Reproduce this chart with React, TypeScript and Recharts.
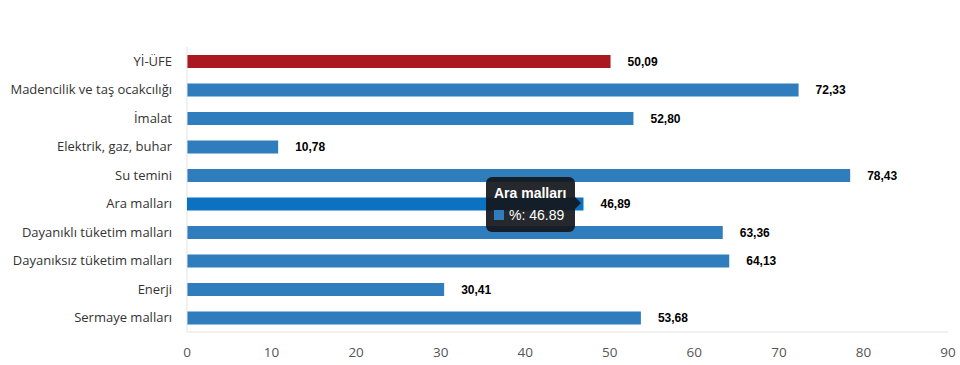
import { BarChart, Bar, XAxis, YAxis, Tooltip, LabelList, Cell } from 'recharts'

const categories = [
  'Yİ-ÜFE',
  'Madencilik ve taş ocakcılığı',
  'İmalat',
  'Elektrik, gaz, buhar',
  'Su temini',
  'Ara malları',
  'Dayanıklı tüketim malları',
  'Dayanıksız tüketim malları',
  'Enerji',
  'Sermaye malları',
]

const values = [50.09, 72.33, 52.8, 10.78, 78.43, 46.89, 63.36, 64.13, 30.41, 53.68]

const xTicks = [0, 10, 20, 30, 40, 50, 60, 70, 80, 90]

const data = categories.map((name, i) => ({ name, value: values[i] }))

const RED = '#a9191f'
const BLUE = '#2f7dbd'
const ACTIVE = '#0b72c2'
const ACTIVE_INDEX = 5

// single-line category label (default tick wraps long names)
function CatTick({ x, y, payload }: any) {
  return (
    <text
      x={x}
      y={y}
      dy={4.5}
      textAnchor="end"
      fill="#333"
      fontSize={13}
      fontFamily='"Open Sans", sans-serif'
    >
      {payload.value}
    </text>
  )
}

function TipBox({ active, payload, label }: any) {
  if (!active || !payload || !payload.length) return null
  const v = payload[0].value as number
  return (
    <div
      style={{
        position: 'relative',
        background: 'rgba(20, 24, 28, 0.93)',
        borderRadius: 6,
        padding: '5px 8px 6px 8px',
        color: '#fff',
        fontFamily: 'Arial, "Liberation Sans", sans-serif',
        fontSize: 14,
        lineHeight: '22px',
        width: 73,
      }}
    >
      <div style={{ fontWeight: 'bold' }}>{label}</div>
      <div style={{ display: 'flex', alignItems: 'center' }}>
        <span style={{ display: 'inline-block', width: 10, height: 10, background: BLUE, marginRight: 5 }} />
        <span>%: {v}</span>
      </div>
      <div
        style={{
          position: 'absolute',
          right: -6,
          top: 20,
          width: 0,
          height: 0,
          borderTop: '6px solid transparent',
          borderBottom: '6px solid transparent',
          borderLeft: '6px solid rgba(20, 24, 28, 0.93)',
        }}
      />
    </div>
  )
}

export default function App() {
  return (
    <div style={{ position: 'absolute', left: 0, top: 0, width: 960, height: 365, overflow: 'hidden' }}>
      <BarChart
        width={960}
        height={365}
        data={data}
        layout="vertical"
        margin={{ top: 47, right: 12, left: 0, bottom: 0 }}
        barCategoryGap={0}
      >
        <XAxis
          type="number"
          domain={[0, 90]}
          ticks={xTicks}
          interval={0}
          axisLine={{ stroke: '#e3e3e3' }}
          tickLine={false}
          tickSize={0}
          tickMargin={15}
          height={33}
          tick={{ fill: '#555', fontSize: 13.5, fontFamily: '"Open Sans", sans-serif' }}
        />
        <YAxis
          type="category"
          dataKey="name"
          width={187}
          axisLine={{ stroke: '#e3e3e3' }}
          tickLine={false}
          tickSize={0}
          tickMargin={15}
          interval={0}
          tick={<CatTick />}
        />
        <Tooltip
          active
          defaultIndex={ACTIVE_INDEX}
          cursor={false}
          isAnimationActive={false}
          position={{ x: 486, y: 177 }}
          content={<TipBox />}
          wrapperStyle={{ outline: 'none' }}
        />
        <Bar dataKey="value" barSize={13} isAnimationActive={false} activeBar={{ fill: ACTIVE }}>
          {data.map((d, i) => (
            <Cell key={d.name} fill={i === 0 ? RED : BLUE} />
          ))}
          <LabelList
            dataKey="value"
            position="right"
            offset={17}
            formatter={(v: any) => Number(v).toFixed(2).replace('.', ',')}
            style={{ fill: '#000', fontSize: 12, fontWeight: 'bold', fontFamily: 'Arial, "Liberation Sans", sans-serif' }}
          />
        </Bar>
      </BarChart>
    </div>
  )
}
